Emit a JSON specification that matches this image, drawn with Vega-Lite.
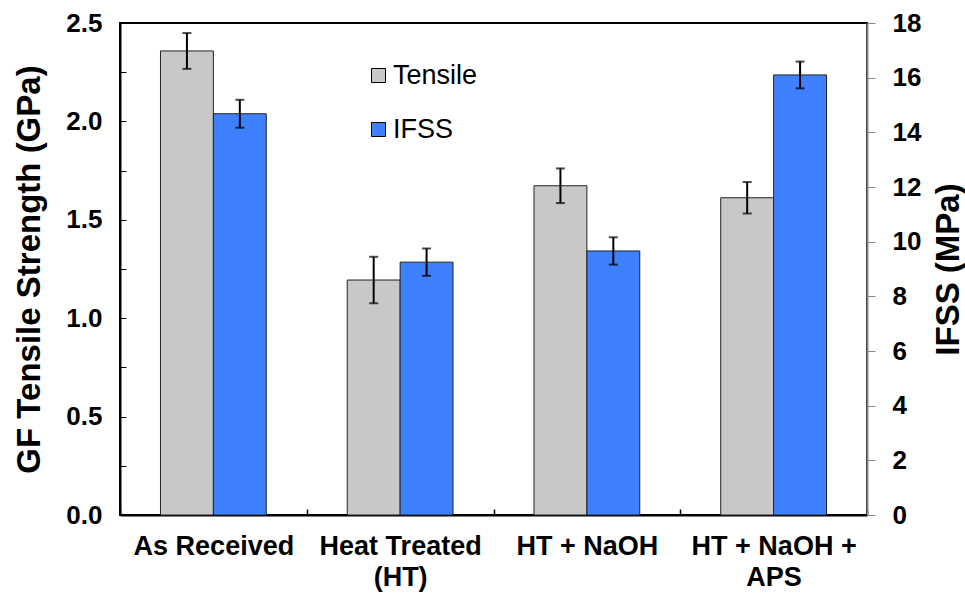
{
  "$schema": "https://vega.github.io/schema/vega-lite/v6.json",
  "autosize": {"type": "none"},
  "width": 747,
  "height": 492,
  "padding": {"left": 120, "top": 23, "right": 98, "bottom": 80},
  "background": "white",
  "config": {
    "view": {"stroke": "#000", "strokeWidth": 2},
    "font": "Liberation Sans",
    "axis": {"grid": false, "labelFont": "Liberation Sans", "titleFont": "Liberation Sans", "labelColor": "#000", "titleColor": "#000"}
  },
  "data": {
    "values": [
      {"group": "As Received", "series": "Tensile", "value": 2.358, "lo": 2.267, "hi": 2.449},
      {"group": "As Received", "series": "IFSS", "value": 14.68, "lo": 14.17, "hi": 15.19},
      {"group": "Heat Treated (HT)", "series": "Tensile", "value": 1.194, "lo": 1.076, "hi": 1.312},
      {"group": "Heat Treated (HT)", "series": "IFSS", "value": 9.25, "lo": 8.75, "hi": 9.75},
      {"group": "HT + NaOH", "series": "Tensile", "value": 1.673, "lo": 1.585, "hi": 1.761},
      {"group": "HT + NaOH", "series": "IFSS", "value": 9.66, "lo": 9.16, "hi": 10.16},
      {"group": "HT + NaOH + APS", "series": "Tensile", "value": 1.612, "lo": 1.532, "hi": 1.692},
      {"group": "HT + NaOH + APS", "series": "IFSS", "value": 16.1, "lo": 15.61, "hi": 16.59}
    ]
  },
  "encoding": {
    "x": {
      "field": "group", "type": "nominal",
      "sort": ["As Received", "Heat Treated (HT)", "HT + NaOH", "HT + NaOH + APS"],
      "scale": {"paddingInner": 0, "paddingOuter": 0},
      "axis": {
        "title": null, "labelAngle": 0, "labelFontSize": 27, "labelFontWeight": "bold",
        "labelPadding": 24, "labelLineHeight": 31,
        "labelExpr": "datum.label == 'Heat Treated (HT)' ? ['Heat Treated', '(HT)'] : datum.label == 'HT + NaOH + APS' ? ['HT + NaOH +', 'APS'] : datum.label",
        "tickBand": "extent", "tickSize": -6, "tickColor": "#000", "tickWidth": 1.5,
        "domainColor": "#000", "domainWidth": 2
      }
    },
    "xOffset": {
      "field": "series", "type": "nominal", "sort": ["Tensile", "IFSS"],
      "scale": {"domain": ["Tensile", "IFSS"], "paddingInner": 0, "paddingOuter": 0.765}
    }
  },
  "layer": [
    {
      "transform": [{"filter": "datum.series == 'Tensile'"}],
      "encoding": {
        "y": {
          "field": "value", "type": "quantitative", "title": "GF Tensile Strength (GPa)",
          "scale": {"domain": [0, 2.5], "nice": false},
          "axis": {
            "orient": "left", "title": "GF Tensile Strength (GPa)",
            "values": [0, 0.25, 0.5, 0.75, 1, 1.25, 1.5, 1.75, 2, 2.25, 2.5],
            "labelExpr": "(round(datum.value * 4) % 2 == 0) ? format(datum.value, '.1f') : ''",
            "labelFontSize": 26, "labelFontWeight": "bold", "labelPadding": 24,
            "tickSize": -6, "tickColor": "#000", "tickWidth": 1,
            "domainColor": "#000", "domainWidth": 2,
            "titleFontSize": 33, "titleFontWeight": "bold", "titlePadding": 19
          }
        }
      },
      "layer": [
        {
          "mark": {"type": "bar", "stroke": "#222", "strokeWidth": 1},
          "encoding": {
            "color": {
              "field": "series", "type": "nominal",
              "scale": {"domain": ["Tensile", "IFSS"], "range": ["#c8c8c8", "#3f80ff"]},
              "legend": {
                "title": null, "orient": "none", "legendX": 245, "legendY": 39,
                "symbolType": "square", "symbolSize": 196, "symbolStrokeColor": "#000", "symbolStrokeWidth": 1,
                "labelFontSize": 27, "labelFont": "Liberation Sans", "labelColor": "#000",
                "rowPadding": 26, "labelOffset": 1
              }
            }
          }
        },
        {
          "mark": {"type": "rule", "color": "#000", "strokeWidth": 2},
          "encoding": {"y": {"field": "lo", "type": "quantitative", "title": "GF Tensile Strength (GPa)"}, "y2": {"field": "hi"}}
        },
        {
          "mark": {"type": "tick", "color": "#000", "thickness": 2, "size": 9, "orient": "horizontal"},
          "encoding": {"y": {"field": "lo", "type": "quantitative", "title": "GF Tensile Strength (GPa)"}}
        },
        {
          "mark": {"type": "tick", "color": "#000", "thickness": 2, "size": 9, "orient": "horizontal"},
          "encoding": {"y": {"field": "hi", "type": "quantitative", "title": "GF Tensile Strength (GPa)"}}
        }
      ]
    },
    {
      "transform": [{"filter": "datum.series == 'IFSS'"}],
      "encoding": {
        "y": {
          "field": "value", "type": "quantitative", "title": "IFSS (MPa)",
          "scale": {"domain": [0, 18], "nice": false},
          "axis": {
            "orient": "right", "title": "IFSS (MPa)",
            "values": [0, 2, 4, 6, 8, 10, 12, 14, 16, 18],
            "labelFontSize": 26, "labelFontWeight": "bold", "labelPadding": 17,
            "tickSize": 8, "tickColor": "#888", "tickWidth": 1,
            "domainColor": "#888", "domainWidth": 2,
            "titleFontSize": 33, "titleFontWeight": "bold", "titlePadding": 12,
            "titleAngle": 270, "titleBaseline": "top"
          }
        }
      },
      "layer": [
        {
          "mark": {"type": "bar", "stroke": "#222", "strokeWidth": 1},
          "encoding": {
            "color": {
              "field": "series", "type": "nominal",
              "scale": {"domain": ["Tensile", "IFSS"], "range": ["#c8c8c8", "#3f80ff"]},
              "legend": {
                "title": null, "orient": "none", "legendX": 245, "legendY": 39,
                "symbolType": "square", "symbolSize": 196, "symbolStrokeColor": "#000", "symbolStrokeWidth": 1,
                "labelFontSize": 27, "labelFont": "Liberation Sans", "labelColor": "#000",
                "rowPadding": 26, "labelOffset": 1
              }
            }
          }
        },
        {
          "mark": {"type": "rule", "color": "#000", "strokeWidth": 2},
          "encoding": {"y": {"field": "lo", "type": "quantitative", "title": "IFSS (MPa)"}, "y2": {"field": "hi"}}
        },
        {
          "mark": {"type": "tick", "color": "#000", "thickness": 2, "size": 9, "orient": "horizontal"},
          "encoding": {"y": {"field": "lo", "type": "quantitative", "title": "IFSS (MPa)"}}
        },
        {
          "mark": {"type": "tick", "color": "#000", "thickness": 2, "size": 9, "orient": "horizontal"},
          "encoding": {"y": {"field": "hi", "type": "quantitative", "title": "IFSS (MPa)"}}
        }
      ]
    }
  ],
  "resolve": {"scale": {"y": "independent"}}
}
